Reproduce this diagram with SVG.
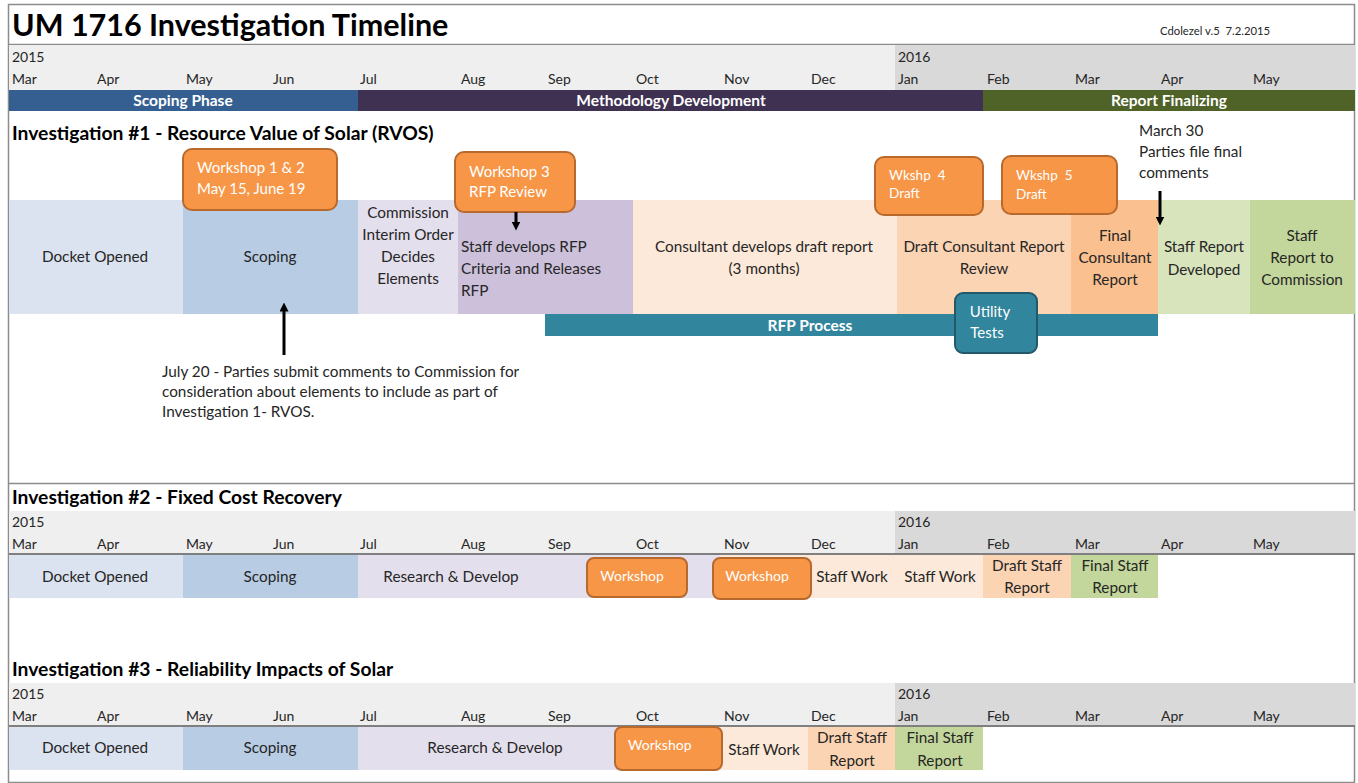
<svg xmlns="http://www.w3.org/2000/svg" width="1358" height="783" viewBox="0 0 1358 783">
<style>
text{font-family:Lato,"Open Sans","Liberation Sans",sans-serif;fill:#262626;font-size:15.3px}
.c{text-anchor:middle}
.title{font-size:30.5px;font-weight:bold;fill:#000}
.h{font-size:19.3px;font-weight:bold;fill:#000}
.m{font-size:14px;fill:#262626}
.n{font-size:15.3px;fill:#262626}
.ph{font-size:15.5px;font-weight:bold;fill:#fff;text-anchor:middle}
.w{fill:#fff;font-size:15px}
.ws{fill:#fff;font-size:14px}
.ob{fill:#f79646;stroke:#b8692e;stroke-width:2}
.tb{fill:#31859c;stroke:#215968;stroke-width:2}
.arr{stroke:#000;stroke-width:3;fill:none}
.sep{stroke:#8c8c8c;stroke-width:1.5}
</style>
<defs>
<marker id="ah" viewBox="0 0 10 10" refX="5" refY="5" markerWidth="3" markerHeight="3" orient="auto"><path d="M0,0 L10,5 L0,10 z" fill="#000"/></marker>
</defs>
<rect x="0" y="0" width="1358" height="783" fill="#fff"/>
<rect x="8.5" y="4.5" width="1346" height="778" fill="none" stroke="#8c8c8c" stroke-width="1.5"/>

<g id="title">
<text x="12" y="36" class="title">UM 1716 Investigation Timeline</text>
<text x="1160" y="35" style="font-size:11.3px" xml:space="preserve">Cdolezel v.5  7.2.2015</text>
<line x1="8" y1="44.5" x2="1355" y2="44.5" class="sep"/>
</g>

<g id="header1">
<rect x="9" y="45" width="886" height="45" fill="#efefef"/>
<rect x="895" y="45" width="460" height="45" fill="#d9d9d9"/>
<text x="12" y="62" class="m">2015</text><text x="898" y="62" class="m">2016</text>
<g class="months">
<text x="12" y="84" class="m">Mar</text><text x="97" y="84" class="m">Apr</text><text x="186" y="84" class="m">May</text><text x="273" y="84" class="m">Jun</text><text x="360" y="84" class="m">Jul</text><text x="461" y="84" class="m">Aug</text><text x="548" y="84" class="m">Sep</text><text x="636" y="84" class="m">Oct</text><text x="724" y="84" class="m">Nov</text><text x="811" y="84" class="m">Dec</text><text x="898" y="84" class="m">Jan</text><text x="987" y="84" class="m">Feb</text><text x="1075" y="84" class="m">Mar</text><text x="1161" y="84" class="m">Apr</text><text x="1253" y="84" class="m">May</text>
</g>
</g>

<g id="phases">
<rect x="9" y="90" width="349" height="21" fill="#365f91"/>
<rect x="358" y="90" width="625" height="21" fill="#3f3151"/>
<rect x="983" y="90" width="372" height="21" fill="#4f6228"/>
<text x="183" y="106" class="ph">Scoping Phase</text>
<text x="671" y="106" class="ph">Methodology Development</text>
<text x="1169" y="106" class="ph">Report Finalizing</text>
</g>

<text x="12" y="140" class="h">Investigation #1 - Resource Value of Solar (RVOS)</text>

<g id="inv1-cells">
<rect x="9" y="200" width="174" height="114" fill="#dbe3f0"/>
<rect x="183" y="200" width="175" height="114" fill="#b8cce4"/>
<rect x="358" y="200" width="100" height="114" fill="#e4dfec"/>
<rect x="458" y="200" width="175" height="114" fill="#ccc0da"/>
<rect x="633" y="200" width="264" height="114" fill="#fde9d9"/>
<rect x="897" y="200" width="174" height="114" fill="#fbd4b4"/>
<rect x="1071" y="200" width="87" height="114" fill="#fac090"/>
<rect x="1158" y="200" width="92" height="114" fill="#d7e4bc"/>
<rect x="1250" y="200" width="105" height="114" fill="#c3d69b"/>
<text x="95" y="262" class="c">Docket Opened</text>
<text x="270" y="262" class="c">Scoping</text>
<text x="408" y="218" class="c">Commission</text><text x="408" y="240" class="c">Interim Order</text><text x="408" y="262" class="c">Decides</text><text x="408" y="284" class="c">Elements</text>
<text x="461" y="252">Staff develops RFP</text><text x="461" y="274">Criteria and Releases</text><text x="461" y="296">RFP</text>
<text x="764" y="252" class="c">Consultant develops draft report</text><text x="764" y="274" class="c">(3 months)</text>
<text x="984" y="252" class="c">Draft Consultant Report</text><text x="984" y="274" class="c">Review</text>
<text x="1115" y="241" class="c">Final</text><text x="1115" y="263" class="c">Consultant</text><text x="1115" y="285" class="c">Report</text>
<text x="1204" y="252" class="c">Staff Report</text><text x="1204" y="275" class="c">Developed</text>
<text x="1302" y="241" class="c">Staff</text><text x="1302" y="263" class="c">Report to</text><text x="1302" y="285" class="c">Commission</text>
</g>

<g id="rfp-process">
<rect x="545" y="314" width="613" height="22" fill="#31859c"/>
<text x="810" y="331" class="ph">RFP Process</text>
</g>

<g id="utility-tests">
<rect x="955" y="293" width="82" height="60" rx="8" class="tb"/>
<text x="990" y="317" class="w c">Utility</text><text x="987" y="338" class="w c">Tests</text>
</g>

<g id="workshop12">
<rect x="183" y="149" width="154" height="61" rx="9" class="ob"/>
<text x="197" y="173" class="w">Workshop 1 &amp; 2</text><text x="197" y="194" class="w">May 15, June 19</text>
</g>
<g id="workshop3">
<rect x="455" y="152" width="120" height="60" rx="9" class="ob"/>
<text x="469" y="177" class="w">Workshop 3</text><text x="469" y="197" class="w">RFP Review</text>
</g>
<g id="wkshp4">
<rect x="875" y="157" width="108" height="58" rx="9" class="ob"/>
<text x="889" y="180" class="ws" style="font-size:13.5px" xml:space="preserve">Wkshp  4</text><text x="889" y="198" class="ws" style="font-size:13.5px">Draft</text>
</g>
<g id="wkshp5">
<rect x="1002" y="156" width="115" height="58" rx="9" class="ob"/>
<text x="1016" y="180" class="ws" style="font-size:13.5px" xml:space="preserve">Wkshp  5</text><text x="1016" y="199" class="ws" style="font-size:13.5px">Draft</text>
</g>

<g id="notes">
<text x="162" y="377" class="n">July 20 - Parties submit comments to Commission for</text>
<text x="162" y="397" class="n">consideration about elements to include as part of</text>
<text x="162" y="417" class="n">Investigation 1- RVOS.</text>
<text x="1139" y="136" class="n">March 30</text>
<text x="1139" y="157" class="n">Parties file final</text>
<text x="1139" y="178" class="n">comments</text>
</g>

<g id="connectors">
<line x1="516" y1="212" x2="516" y2="226" class="arr" marker-end="url(#ah)"/>
<line x1="284" y1="355" x2="284" y2="307" class="arr" marker-end="url(#ah)"/>
<line x1="1160" y1="191" x2="1160" y2="221" class="arr" marker-end="url(#ah)"/>
</g>

<line x1="8" y1="483.5" x2="1355" y2="483.5" class="sep"/>

<text x="12" y="504" class="h">Investigation #2 - Fixed Cost Recovery</text>
<g id="header2">
<rect x="9" y="511" width="886" height="42" fill="#efefef"/>
<rect x="895" y="511" width="460" height="42" fill="#d9d9d9"/>
<line x1="9" y1="554" x2="1355" y2="554" stroke="#7f7f7f" stroke-width="2"/>
<text x="12" y="527" class="m">2015</text><text x="898" y="527" class="m">2016</text>
<text x="12" y="549" class="m">Mar</text><text x="97" y="549" class="m">Apr</text><text x="186" y="549" class="m">May</text><text x="273" y="549" class="m">Jun</text><text x="360" y="549" class="m">Jul</text><text x="461" y="549" class="m">Aug</text><text x="548" y="549" class="m">Sep</text><text x="636" y="549" class="m">Oct</text><text x="724" y="549" class="m">Nov</text><text x="811" y="549" class="m">Dec</text><text x="898" y="549" class="m">Jan</text><text x="987" y="549" class="m">Feb</text><text x="1075" y="549" class="m">Mar</text><text x="1161" y="549" class="m">Apr</text><text x="1253" y="549" class="m">May</text>
</g>
<g id="inv2-cells">
<rect x="9" y="555" width="174" height="43" fill="#dbe3f0"/>
<rect x="183" y="555" width="175" height="43" fill="#b8cce4"/>
<rect x="358" y="555" width="362" height="43" fill="#e4dfec"/>
<rect x="720" y="555" width="263" height="43" fill="#fde9d9"/>
<rect x="983" y="555" width="88" height="43" fill="#fbd4b4"/>
<rect x="1071" y="555" width="87" height="43" fill="#c3d69b"/>
<text x="95" y="582" class="c">Docket Opened</text>
<text x="270" y="582" class="c">Scoping</text>
<text x="451" y="582" class="c">Research &amp; Develop</text>
<text x="852" y="582" class="c">Staff Work</text>
<text x="940" y="582" class="c">Staff Work</text>
<text x="1027" y="571" class="c">Draft Staff</text><text x="1027" y="593" class="c">Report</text>
<text x="1115" y="571" class="c">Final Staff</text><text x="1115" y="593" class="c">Report</text>
</g>
<g id="inv2-workshop-a">
<rect x="587" y="558" width="100" height="39" rx="7" class="ob"/>
<text x="632" y="581" class="ws c">Workshop</text>
</g>
<g id="inv2-workshop-b">
<rect x="713" y="558" width="98" height="41" rx="7" class="ob"/>
<text x="757" y="581" class="ws c">Workshop</text>
</g>

<text x="12" y="676" class="h">Investigation #3 - Reliability Impacts of Solar</text>
<g id="header3">
<rect x="9" y="683" width="886" height="42" fill="#efefef"/>
<rect x="895" y="683" width="460" height="42" fill="#d9d9d9"/>
<line x1="9" y1="726" x2="1355" y2="726" stroke="#7f7f7f" stroke-width="2"/>
<text x="12" y="699" class="m">2015</text><text x="898" y="699" class="m">2016</text>
<text x="12" y="721" class="m">Mar</text><text x="97" y="721" class="m">Apr</text><text x="186" y="721" class="m">May</text><text x="273" y="721" class="m">Jun</text><text x="360" y="721" class="m">Jul</text><text x="461" y="721" class="m">Aug</text><text x="548" y="721" class="m">Sep</text><text x="636" y="721" class="m">Oct</text><text x="724" y="721" class="m">Nov</text><text x="811" y="721" class="m">Dec</text><text x="898" y="721" class="m">Jan</text><text x="987" y="721" class="m">Feb</text><text x="1075" y="721" class="m">Mar</text><text x="1161" y="721" class="m">Apr</text><text x="1253" y="721" class="m">May</text>
</g>
<g id="inv3-cells">
<rect x="9" y="727" width="174" height="43" fill="#dbe3f0"/>
<rect x="183" y="727" width="175" height="43" fill="#b8cce4"/>
<rect x="358" y="727" width="262" height="43" fill="#e4dfec"/>
<rect x="720" y="727" width="88" height="43" fill="#fde9d9"/>
<rect x="808" y="727" width="87" height="43" fill="#fbd4b4"/>
<rect x="895" y="727" width="88" height="43" fill="#c3d69b"/>
<text x="95" y="753" class="c">Docket Opened</text>
<text x="270" y="753" class="c">Scoping</text>
<text x="495" y="753" class="c">Research &amp; Develop</text>
<text x="764" y="755" class="c">Staff Work</text>
<text x="852" y="743" class="c">Draft Staff</text><text x="852" y="766" class="c">Report</text>
<text x="940" y="743" class="c">Final Staff</text><text x="940" y="766" class="c">Report</text>
</g>
<g id="inv3-workshop">
<rect x="615" y="727" width="107" height="43" rx="7" class="ob"/>
<text x="628" y="750" class="ws">Workshop</text>
</g>
</svg>
